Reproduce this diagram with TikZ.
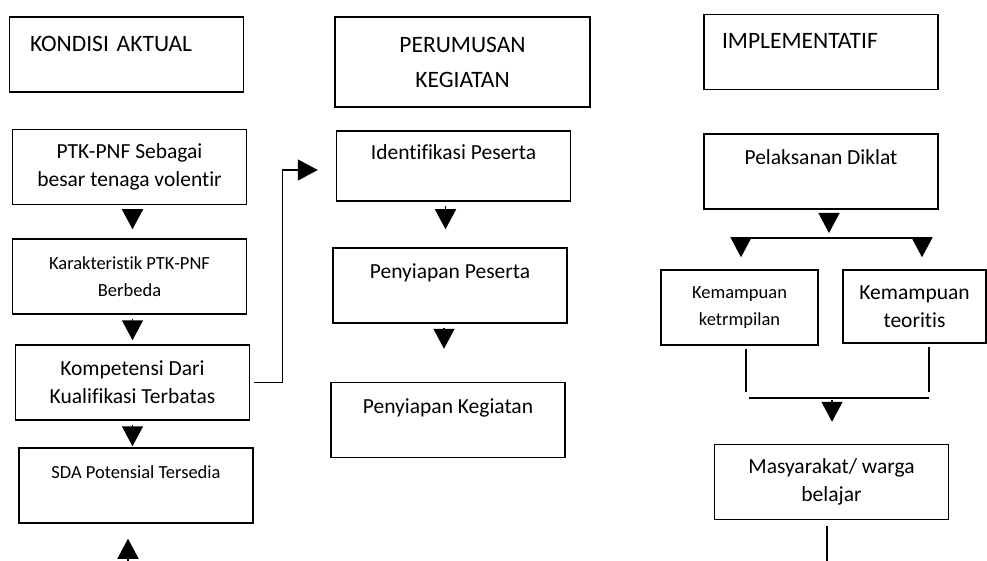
\documentclass[tikz,border=0pt]{standalone}
\usepackage{fontspec}
\setmainfont[Ligatures=NoCommon]{Carlito}
\usetikzlibrary{arrows.meta}

\begin{document}
\begin{tikzpicture}[x=1pt,y=-1pt,
    box/.style={draw,line width=1.5pt,align=center,inner sep=0pt,minimum width=234pt,minimum height=75pt,font=\fontsize{21.5}{28}\selectfont},
    small/.style={font=\fontsize{18.5}{27}\selectfont},
    head/.style={font=\fontsize{23.5}{22}\selectfont},
    arr/.style={-{Triangle[length=20pt,width=21pt]},line width=1.5pt,shorten <=4pt},
    link/.style={line width=1.5pt}]
            \useasboundingbox (0,0) rectangle (987,561);

            \node[box,head,align=left,text width=193pt,inner xsep=20pt] (kondisi) at (126.5,54.5) {KONDISI AKTUAL\\~};
            \node[box] (ptk) at (129.5,167) {PTK-PNF Sebagai\\besar tenaga volentir};
            \node[box,small] (karak) at (129.5,276.5) {Karakteristik PTK-PNF\\Berbeda};
            \node[box] (komp) at (132.5,382.5) {Kompetensi Dari\\Kualifikasi Terbatas};
            \node[box,small] (sda) at (136,485.5) {SDA Potensial Tersedia\\~};

            \node[box,minimum width=255pt,minimum height=90pt,font=\fontsize{23.5}{35}\selectfont] (perumusan) at (462.5,62) {PERUMUSAN\\KEGIATAN};
            \node[box,minimum height=70pt] (ident) at (453.5,166) {Identifikasi Peserta\\~};
            \node[box] (peserta) at (450,285.5) {Penyiapan Peserta\\~};
            \node[box] (kegiatan) at (448,420) {Penyiapan Kegiatan\\~};

            \node[box,head,align=left,text width=198pt,inner xsep=18pt] (implem) at (821,52) {IMPLEMENTATIF\\~};
            \node[box] (diklat) at (821,171.5) {Pelaksanan Diklat\\~};
            \node[box,small,minimum width=157pt] (terampil) at (739.5,307.5) {Kemampuan\\ketrmpilan};
            \node[box,minimum width=143pt,minimum height=73pt] (teori) at (914.5,306.5) {Kemampuan\\teoritis};
            \node[box] (warga) at (831.5,482) {Masyarakat/ warga\\belajar};

            \coordinate (split) at (829,238);
            \coordinate (splitl) at (741,238);
            \coordinate (splitr) at (922,238);
            \coordinate (joinl) at (746,396);
            \coordinate (joinr) at (929,396);
            \coordinate (join) at (832,396);
            \coordinate (sdain) at (128,561);
            \coordinate (wargaout) at (827,561);

            \draw[arr,shorten >=9pt] ([xshift=3pt]ptk.south) -- ([xshift=3pt]karak.north);
            \draw[arr,shorten >=4pt] ([xshift=3pt]karak.south) -- ([xshift=3pt]karak.south |- komp.north);
            \draw[arr,shorten >=1pt] (komp.south) -- (komp.south |- sda.north);
            \draw[arr,shorten <=0pt,shorten >=15pt] (sdain) -- (sdain |- sda.south);
            \draw[arr] (komp.east) -- ++(32,0) |- ([xshift=-18pt,yshift=-4pt]ident.west);

            \draw[arr,shorten >=18pt] ([xshift=-8pt]ident.south) -- ([xshift=-8pt]ident.south |- peserta.north);
            \draw[arr,shorten >=33pt] ([xshift=-6pt]peserta.south) -- ([xshift=-6pt]peserta.south |- kegiatan.north);

            \draw[arr,shorten >=5pt] (split |- diklat.south) -- (split);
            \draw[link] (splitl) -- (splitr);
            \draw[arr,shorten <=0pt,shorten >=12pt] (splitl) -- (splitl |- terampil.north);
            \draw[arr,shorten <=0pt,shorten >=12pt] (splitr) -- (splitr |- teori.north);
            \draw[link,shorten <=3pt] (joinl |- terampil.south) -- ([yshift=4pt]joinl);
            \draw[link,shorten <=3pt] (joinr |- teori.south) -- ([yshift=4pt]joinr);
            \draw[link] ([xshift=3pt,yshift=-2pt]joinl) -- ([yshift=-2pt]joinr);
            \draw[arr,shorten >=22pt] (join) -- (join |- warga.north);
            \draw[link,shorten <=6pt] (wargaout |- warga.south) -- (wargaout);
        \end{tikzpicture}
\end{document}
